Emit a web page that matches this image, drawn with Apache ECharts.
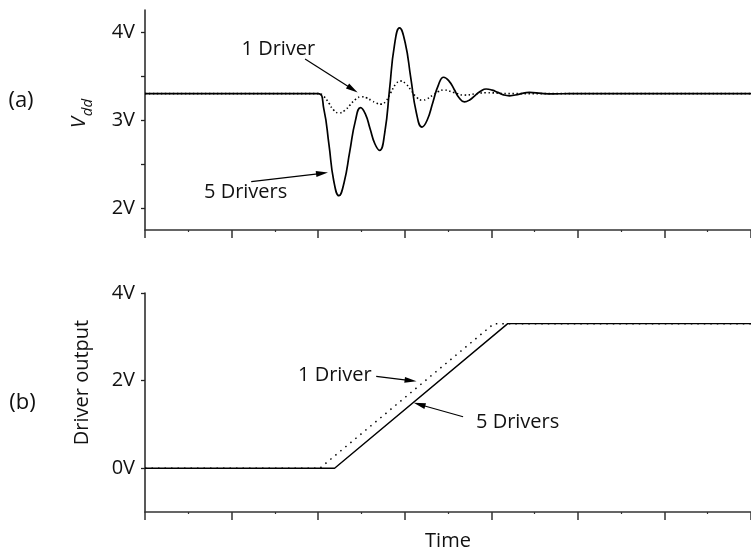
<!DOCTYPE html>
<html>
<head>
<meta charset="utf-8">
<script src="https://cdn.jsdelivr.net/npm/echarts@6/dist/echarts.min.js"></script>
<style>
html,body{margin:0;padding:0;background:#fff;}
#c{width:751px;height:552px;}
</style>
</head>
<body>
<div id="c"></div>
<script>
// ---- data (time in arbitrary units, voltage in V) ----
const vddTicks = [2, 2.5, 3, 3.5, 4];
const vddLabels = [2, 3, 4];
const outTicks = [0, 2, 4];
const outLabels = [0, 2, 4];

// (a) supply voltage, 5 drivers switching
const vdd5 = [
  [0, 3.3], [2.0, 3.3], [2.065, 3.13], [2.125, 2.72], [2.18, 2.31], [2.24, 2.14],
  [2.30, 2.29], [2.365, 2.64], [2.43, 2.99], [2.49, 3.14],
  [2.545, 3.07], [2.60, 2.90], [2.655, 2.73], [2.71, 2.655],
  [2.77, 2.86], [2.825, 3.35], [2.88, 3.84], [2.94, 4.046],
  [3.005, 3.88], [3.07, 3.48], [3.135, 3.08], [3.20, 2.92],
  [3.26, 3.00], [3.325, 3.20], [3.39, 3.40], [3.45, 3.486],
  [3.51, 3.445], [3.57, 3.35], [3.63, 3.25], [3.69, 3.207],
  [3.75, 3.228], [3.815, 3.28], [3.88, 3.33], [3.94, 3.352],
  [4.01, 3.34], [4.075, 3.314], [4.14, 3.286], [4.21, 3.275],
  [4.325, 3.295], [4.44, 3.314], [4.58, 3.302], [4.72, 3.297], [4.9, 3.3], [7, 3.3]
];
// (a) supply voltage, 1 driver switching
const vdd1 = [
  [0, 3.3], [2.0, 3.3], [2.065, 3.268], [2.125, 3.19], [2.18, 3.112], [2.24, 3.08],
  [2.305, 3.107], [2.37, 3.172], [2.435, 3.237], [2.50, 3.264],
  [2.5575, 3.252], [2.615, 3.222], [2.6725, 3.192], [2.73, 3.18],
  [2.785, 3.218], [2.84, 3.312], [2.895, 3.405], [2.95, 3.443],
  [3.0125, 3.411], [3.075, 3.335], [3.1375, 3.258], [3.20, 3.226],
  [3.2625, 3.243], [3.325, 3.283], [3.3875, 3.323], [3.45, 3.34],
  [3.57, 3.312], [3.69, 3.283], [3.815, 3.297], [3.94, 3.31], [4.2, 3.3], [7, 3.3]
];
// (b) driver output ramps
const out5 = [[0, 0], [2.19, 0], [4.19, 3.3], [7, 3.3]];
const out1 = [[0, 0], [2.02, 0], [4.03, 3.3], [7, 3.3]];

const FONT = 'Open Sans';

function xAxisDef(gridIndex, withName) {
  return {
    type: 'value', gridIndex: gridIndex, min: 0, max: 7, interval: 1,
    axisLine: { onZero: false, lineStyle: { color: '#333', width: 1.5 } },
    axisTick: { show: true, length: 8, lineStyle: { color: '#333', width: 1.5 } },
    minorTick: { show: true, splitNumber: 2, length: 2, lineStyle: { color: '#333', width: 1.2 } },
    axisLabel: { show: false },
    splitLine: { show: false },
    name: withName ? 'Time' : '',
    nameLocation: 'middle', nameGap: 19,
    nameTextStyle: { fontFamily: FONT, fontSize: 20, color: '#111' }
  };
}
function yAxisDef(gridIndex, min, max, ticks, labels) {
  return {
    type: 'value', gridIndex: gridIndex, min: min, max: max,
    axisLine: { show: true, onZero: false, lineStyle: { color: '#222', width: 1.5 } },
    axisTick: { show: true, length: 4, customValues: ticks, lineStyle: { color: '#222', width: 1.3 } },
    axisLabel: {
      show: true, customValues: labels, margin: 10,
      fontFamily: FONT, fontSize: 20, color: '#111',
      formatter: function (v) { return v + 'V'; }
    },
    splitLine: { show: false }
  };
}
function arrow(x1, y1, x2, y2) {
  return [
    { coord: [x1, y1], symbol: 'none' },
    { coord: [x2, y2], symbol: 'triangle', symbolSize: [6, 12] }
  ];
}

const chart = echarts.init(document.getElementById('c'), null, { renderer: 'canvas' });
chart.setOption({
  animation: false,
  backgroundColor: '#fff',
  textStyle: { fontFamily: FONT },
  grid: [
    { left: 145, top: 10, width: 616, height: 220 },
    { left: 145, top: 293, width: 616, height: 220 }
  ],
  xAxis: [xAxisDef(0, false), xAxisDef(1, true)],
  yAxis: [
    yAxisDef(0, 1.75, 4.25, vddTicks, vddLabels),
    yAxisDef(1, -1, 4, outTicks, outLabels)
  ],
  series: [
    {
      name: '1 Driver (a)', type: 'line', xAxisIndex: 0, yAxisIndex: 0,
      data: vdd1, showSymbol: false, smooth: 0.5,
      lineStyle: { color: '#000', width: 1.6, type: [1.4, 2.6] }
    },
    {
      name: '5 Drivers (a)', type: 'line', xAxisIndex: 0, yAxisIndex: 0,
      data: vdd5, showSymbol: false, smooth: 0.5,
      lineStyle: { color: '#000', width: 1.7 },
      markLine: {
        silent: true, animation: false, label: { show: false },
        lineStyle: { color: '#000', width: 1.2, type: 'solid' },
        itemStyle: { color: '#000' },
        data: [arrow(1.849, 3.693, 2.398, 3.349), arrow(1.227, 2.299, 2.045, 2.394)]
      }
    },
    {
      name: '1 Driver (b)', type: 'line', xAxisIndex: 1, yAxisIndex: 1,
      data: out1, showSymbol: false,
      lineStyle: { color: '#000', width: 1.5, type: [1.5, 5] }
    },
    {
      name: '5 Drivers (b)', type: 'line', xAxisIndex: 1, yAxisIndex: 1,
      data: out5, showSymbol: false,
      lineStyle: { color: '#000', width: 1.4 },
      markLine: {
        silent: true, animation: false, label: { show: false },
        lineStyle: { color: '#000', width: 1.2, type: 'solid' },
        itemStyle: { color: '#000' },
        data: [arrow(2.6705, 2.098, 3.068, 2.0), arrow(3.674, 1.175, 3.17, 1.4545)]
      }
    }
  ],
  graphic: [
    { type: 'text', x: 21, y: 101, style: { text: '(a)', font: '22px "Open Sans"', fill: '#111', align: 'center', verticalAlign: 'middle' } },
    { type: 'text', x: 22.5, y: 403, style: { text: '(b)', font: '22px "Open Sans"', fill: '#111', align: 'center', verticalAlign: 'middle' } },
    { type: 'text', x: 79.5, y: 122.5, rotation: Math.PI / 2, style: { text: 'V', font: 'italic 20px "Open Sans"', fill: '#111', align: 'center', verticalAlign: 'middle' } },
    { type: 'text', x: 88, y: 107.5, rotation: Math.PI / 2, style: { text: 'dd', font: 'italic 15px "Open Sans"', fill: '#111', align: 'center', verticalAlign: 'middle' } },
    { type: 'text', x: 82, y: 382.5, rotation: Math.PI / 2, style: { text: 'Driver output', font: '20px "Open Sans"', fill: '#111', align: 'center', verticalAlign: 'middle' } },
    { type: 'text', x: 241.5, y: 49, style: { text: '1 Driver', font: '20px "Open Sans"', fill: '#111', align: 'left', verticalAlign: 'middle' } },
    { type: 'text', x: 204, y: 192, style: { text: '5 Drivers', font: '20px "Open Sans"', fill: '#111', align: 'left', verticalAlign: 'middle' } },
    { type: 'text', x: 298, y: 375.5, style: { text: '1 Driver', font: '20px "Open Sans"', fill: '#111', align: 'left', verticalAlign: 'middle' } },
    { type: 'text', x: 476, y: 422, style: { text: '5 Drivers', font: '20px "Open Sans"', fill: '#111', align: 'left', verticalAlign: 'middle' } }
  ]
});
</script>
</body>
</html>
